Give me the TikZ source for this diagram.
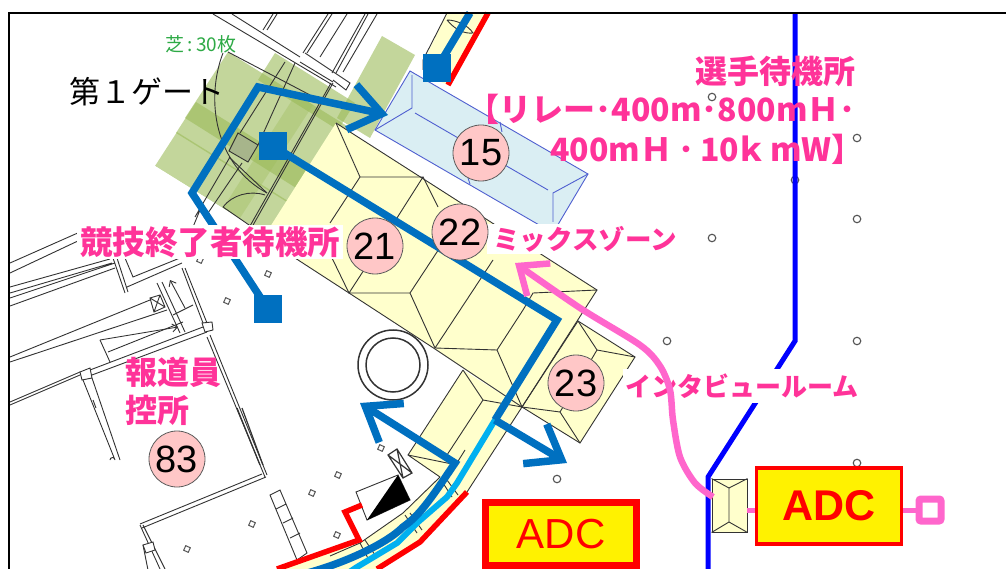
\documentclass[tikz,border=0pt]{standalone}
\usepackage{fontspec}
\setmainfont{Liberation Sans}
\newfontfamily\jp{Noto Sans CJK JP}
\usetikzlibrary{arrows.meta}
\definecolor{bluep}{HTML}{0070C0}
\definecolor{skyp}{HTML}{00B0F0}
\definecolor{pinkl}{HTML}{FF66CC}
\definecolor{pinkt}{HTML}{FF3399}
\definecolor{matg}{HTML}{9BBB59}
\definecolor{yel}{HTML}{FFFFCC}
\definecolor{pale}{HTML}{DAEEF3}
\definecolor{paleb}{HTML}{4F5FD0}
\definecolor{circ}{HTML}{FFC7C7}
\definecolor{lineg}{HTML}{333333}
\tikzset{
 mat/.style={fill=matg,fill opacity=.6,draw=none},
 lightmat/.style={fill=matg,fill opacity=.35,draw=none},
 bld/.style={draw=lineg,line width=.9pt},
 bldw/.style={draw=lineg,line width=.9pt,fill=white},
 roof/.style={draw=lineg,line width=.9pt},
 pool/.style={draw=paleb,line width=.9pt},
 bpath/.style={draw=bluep,line width=7.5pt},
 barbbig/.style={-{Straight Barb[length=31pt,width=46pt,line width=7.5pt]}},
 bsq/.style={fill=bluep,minimum size=28pt,inner sep=0pt},
 num/.style={circle,draw=lineg!80,line width=.8pt,fill=circ,minimum size=56pt,inner sep=0pt,font=\fontsize{38}{40}\selectfont},
 lab/.style={font=\jp\bfseries\fontsize{#1}{#1}\selectfont,text=pinkt,inner sep=0pt},
 labw/.style={lab=#1,fill=white},
 dotc/.style={circle,draw=lineg!85,line width=1.1pt,fill=white,minimum size=7.5pt,inner sep=0pt},
 dots/.style={rectangle,rotate=-25,draw=lineg!85,line width=1pt,fill=white,minimum size=5pt,inner sep=0pt},
 redl/.style={draw=red,line width=5.5pt},
}
\begin{document}
\begin{tikzpicture}[x=1pt,y=-1pt]
\clip (0,0) rectangle (1006,569);
\fill[white] (0,0) rectangle (1006,569);
% turf mats
\path[mat] (228,52) -- (347,126) -- (304,193) -- (185,118) -- cycle;
\path[mat] (196,102) -- (315,176) -- (295,207) -- (176,133) -- cycle;
\path[mat] (177,132) -- (296,206) -- (274,240) -- (155,166) -- cycle;
\path[mat] (275,53) -- (355,103) -- (338,130) -- (258,80) -- cycle;
\path[lightmat] (296,94) -- (313,105) -- (240,218) -- (223,208) -- cycle;
\path[mat] (382,36) -- (415,55) -- (370,138) -- (337,118) -- cycle;
\fill[white] (155,166) -- (274,240) -- (252,275) -- (120,190) -- cycle;
% roofs
\fill[yel] (336,123) -- (597,290) -- (522,407) -- (435,349) -- (295,258) -- (270,227) -- cycle;
\fill[yel] (463,370) -- (522,407) -- (467,492) -- (420,542) -- (377,569) -- (277,569) -- (360,543) -- (403,513) -- (440,477) -- (408,455) -- cycle;
\fill[yel] (447,13) -- (488,13) -- (448,85) -- (424,75) -- (423,63) -- cycle;
\draw[roof,fill=yel] (578,321) -- (635,357) -- (580,443) -- (522,407) -- cycle;
\draw[roof] (578,321) -- (597,350) -- (635,357) (597,350) -- (560,412) -- (522,407) (560,412) -- (580,443);
\draw[roof] (336,123) -- (597,290) -- (522,407) -- (435,349) -- (349,293) -- (295,258);
\draw[roof] (336,123) -- (360,177) -- (423,177) -- (362,273) -- (349,293) -- (410,293) -- (437,252) -- (465,208) (423,177) -- (438,207) (360,177) -- (330,223) (295,258) -- (332,258) -- (349,293) (410,293) -- (435,348) -- (497,350) -- (523,310) -- (533,293) -- (597,290) (497,350) -- (522,407) (435,348) -- (493,260);
\draw[roof] (463,370) -- (408,455) -- (440,477) (463,370) -- (483,400) -- (522,407) (483,400) -- (445,458) (408,455) -- (452,464) (522,407) -- (467,492);
\draw[roof] (440,477) -- (403,513) -- (360,543) -- (330,556);
\draw[roof] (443,483) -- (452,497) (447,480) -- (458,495) (405,515) -- (417,533) (410,513) -- (422,530) (360,543) -- (370,562) (365,540) -- (377,558) (465,450) -- (440,490);
\draw[roof] (447,13) -- (423,60) -- (423,70);
\draw[roof] (447,20) .. controls (455,30) and (465,34) .. (473,33) .. controls (468,25) and (456,20) .. (447,20);
% pool box
\draw[pool,fill=pale] (410,71) -- (588,174) -- (553,233) -- (375,130) -- cycle;
\draw[pool] (412,75) -- (412,108) -- (375,130) (415,113) -- (548,190) (588,174) -- (553,193) -- (553,222) (500,122) -- (502,132) (468,178) -- (470,184);
% building drawing
\draw[bld] (213,14) -- (336,87) (232,14) -- (300,57) (300,62) -- (333,82) (305,53) -- (350,83) -- (346,90) -- (333,80);
\draw[bld] (273,14) -- (263,30) (277,14) -- (267,30) (328,14) -- (303,53) (332,14) -- (307,53) (347,14) -- (320,57) (365,14) -- (332,73) (368,14) -- (336,73) (377,14) -- (343,72);
\draw[bld] (333,83) -- (252,227) (331,83) -- (250,226) (285,62) -- (240,133) (295,63) -- (258,145) (230,157) -- (195,217) (242,163) -- (208,213) (193,227) -- (200,210);
\draw[bld] (228,52) -- (310,95);
\draw[bld] (223,53) .. controls (205,100) and (215,165) .. (267,193);
\draw[bld] (223,207) .. controls (232,195) and (250,190) .. (265,195);
\draw[bld] (223,207) -- (252,227) (229,157) -- (267,193);
\draw[bld,fill=matg!70!black!60!white] (238,133) -- (258,145) -- (248,162) -- (229,151) -- cycle;
\draw[bld] (10,263) -- (80,232) (10,273) -- (80,240) (10,287) -- (110,259) (10,293) -- (112,263) (10,298) -- (115,263) (10,306) -- (115,268);
\draw[bld] (113,258) -- (125,293) (117,258) -- (128,292) (125,258) -- (133,277) -- (180,258) (127,287) -- (182,263);
\draw[bld] (150,300) -- (10,357) (167,310) -- (10,362);
\draw[bld] (150,298) -- (160,295) -- (165,307) -- (154,312) -- cycle (150,298) -- (165,307) (160,295) -- (154,312);
\draw[bld] (157,283) -- (180,333) (162,282) -- (185,332);
\draw[bld,-{Straight Barb[length=5pt,width=8pt]}] (185,308) -- (170,280);
\draw[bld] (193,305) -- (173,315);
\draw[bld] (182,268) -- (203,323) (185,268) -- (207,323);
\draw[bld,-{Straight Barb[length=5pt,width=8pt]}] (100,340) -- (178,327);
\draw[bld] (100,340) -- (110,362) (108,352) -- (183,322);
\draw[bld] (10,402) -- (80,372) (10,405) -- (80,375) (90,370) -- (203,327) (92,375) -- (207,332);
\draw[bldw] (80,372) -- (90,368) -- (92,378) -- (82,380) -- cycle;
\draw[bld] (83,380) -- (115,460) (92,378) -- (120,460) (115,460) arc (180:0:-2.5);
\draw[bld] (93,400) -- (96,408);
\draw[bldw] (202,323) -- (212,322) -- (213,330) -- (205,332) -- cycle;
\draw[bld] (207,337) -- (265,477) (210,335) -- (267,475);
\draw[bld,line width=1.2pt] (237,408) -- (260,465) (242,408) -- (263,465);
\draw[bld] (262,474) -- (140,524) (266,477) -- (142,528);
\draw[bld] (140,525) -- (160,569) (143,525) -- (165,569) (148,570) -- (143,545);
\draw[bldw] (143,545) -- (153,542) -- (155,550) -- (146,553) -- cycle;
\draw[bld] (270,495) -- (280,490) -- (307,553) -- (297,560) -- cycle (276,509) -- (286,504) (283,523) -- (293,518) (290,538) -- (300,533);
\draw[bld,line width=1.2pt,draw=lineg] (388,455) -- (397,449) -- (412,473) -- (403,478) -- cycle (388,455) -- (412,473) (397,449) -- (403,478);
\draw[bldw] (356,492) -- (398,475) -- (410,500) -- (367,520) -- cycle;
\fill[black] (398,475) -- (410,500) -- (367,520) -- cycle;
\draw[draw=lineg,line width=1.5pt] (393,365) circle[radius=35];
\draw[draw=lineg,line width=1.5pt] (393,365) circle[radius=27];
% posts
\foreach \p/\q in {a/{712,97},b/{857,138},c/{795,180},d/{857,219},e/{712,238},f/{667,341},g/{857,341},h/{857,463},i/{557,479}}{
 \node[dotc] (dot\p) at (\q) {};}
\foreach \p/\q in {a/{227,301},b/{312,493},c/{252,524},d/{187,549},e/{338,475},f/{337,535},g/{268,274},h/{200,260},i/{381,448}}{
 \node[dots] (sq\p) at (\q) {};}
% barriers
\draw[draw=blue,line width=5pt] (795,13) -- (795,341) -- (708,477) -- (708,569);
\draw[redl,line join=miter] (488,13) -- (448,85);
\draw[redl] (467,492) -- (420,542) -- (377,569);
\draw[redl] (362,505) -- (345,512) -- (359,540) -- (277,569);
% blue routes
\node[bsq] (s1) at (268,309) {};
\node[bsq] (s2) at (273,146) {};
\node[bsq] (s3) at (437,68) {};
\coordinate (t1) at (388,115);
\coordinate (t2) at (567,463);
\coordinate (t3) at (360,403);
\coordinate (k) at (495,420);
\draw[draw=skyp,line width=6pt] (k) -- (457,483) -- (447,497) -- (417,523) -- (397,543) -- (357,567) -- (345,575);
\draw[bpath,barbbig] (s1.center) -- (192,193) -- (258,87) -- (t1);
\draw[bpath] (s2.center) -- (557,320) -- (k);
\draw[bpath,barbbig] (k) -- (t2);
\draw[bpath,barbbig] (300,575) .. controls (340,565) and (385,545) .. (403,527) .. controls (420,515) and (430,500) .. (455,463) -- (t3);
\draw[bpath] (s3.center) -- (470,13);
% labels
\node[labw=32.5,inner xsep=3pt,inner ysep=1pt] (lend) at (210,242) {競技終了者待機所};
\node[labw=26.5,inner xsep=6pt,inner ysep=2pt] (lmix) at (585,239) {ミックスゾーン};
\node[labw=26,inner xsep=2pt,inner ysep=5pt] (lint) at (742,386) {インタビュールーム};
\node[lab=32] (lwait) at (775,71) {選手待機所};
\node[lab=32,anchor=east] (lr1) at (856,109) {【リレー･400m･800mＨ･};
\node[lab=32,anchor=west] (lr2) at (550,149) {400mＨ\hspace{6pt}･\hspace{6pt}10\hspace{-4pt}ｋ\hspace{3pt}mW】};
\node[lab=32,anchor=west] (lp1) at (125,372) {報道員};
\node[lab=32,anchor=west] (lp2) at (125,410) {控所};
\node[font=\jp\fontsize{31}{31}\selectfont,anchor=west,inner sep=0pt] (lgate) at (69,92) {第１ゲート};
\node[font=\jp\fontsize{19}{19}\selectfont,text={rgb,255:red,46;green,170;blue,70},inner sep=0pt] (lturf) at (201,44) {芝\,:\,30枚};
% numbers
\node[num] (n15) at (481,153) {15};
\node[num] (n21) at (375,246) {21};
\node[num] (n22) at (460,232) {22};
\node[num] (n23) at (576,383) {23};
\node[num] (n83) at (177,459) {83};
% ADC
\node[draw=red,line width=7pt,fill=yellow,minimum width=151pt,minimum height=63pt,inner sep=0pt,text=red,font=\fontsize{42}{42}\selectfont] (adc1) at (561,534) {ADC};
\node[draw=red,line width=3.5pt,fill=yellow,minimum width=145pt,minimum height=76pt,inner sep=0pt,text=red,font=\bfseries\fontsize{43}{43}\selectfont] (adc2) at (829,506) {ADC};
\node[draw=lineg,line width=.9pt,fill=yel,minimum width=35pt,minimum height=53pt,inner sep=0pt] (gate) at (729.5,505.5) {};
\draw[roof] (gate.north west) -- (729,488) -- (gate.north east) (gate.south west) -- (729,522) -- (gate.south east) (729,488) -- (729,522);
\node[draw=pinkl,line width=7pt,fill=white,minimum size=22pt,inner sep=0pt,rounded corners=2pt] (term) at (930,510) {};
\draw[draw=pinkl,line width=5pt] (gate.east |- 0,510) -- (adc2.west |- 0,510);
\draw[draw=pinkl,line width=5pt] (adc2.east |- term) -- (term.west);
\draw[draw=pinkl,line width=6.5pt,-{Straight Barb[length=24pt,width=40pt,line width=6.5pt]}] plot[smooth,tension=.5] coordinates {(713,497) (695,483) (680,457) (673,420) (670,390) (660,366) (640,345) (580,308) (515,263)};
% frame
\draw[draw=black,line width=1.5pt] (9,569) -- (9,13) -- (1006,13);
\end{tikzpicture}
\end{document}
